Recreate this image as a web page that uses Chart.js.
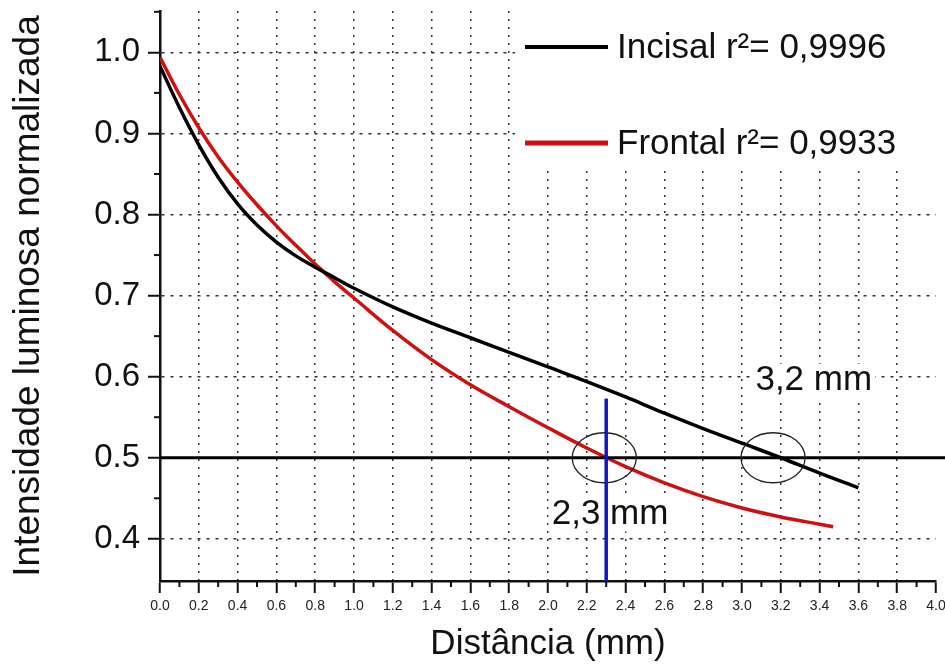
<!DOCTYPE html>
<html>
<head>
<meta charset="utf-8">
<script src="https://cdn.jsdelivr.net/npm/chart.js@4"></script>
<style>
  html, body { margin: 0; padding: 0; background: #fff; }
</style>
</head>
<body>
<canvas id="c" width="945" height="666"></canvas>
<script>
// values
const incisalX = [0, 0.1, 0.2, 0.3, 0.4, 0.5, 0.6, 0.7, 0.8, 0.9, 1.0, 1.2, 1.4, 1.6, 1.8, 2.0, 2.2, 2.4, 2.6, 2.8, 3.0, 3.2, 3.4, 3.6];
const incisalY = [0.983, 0.932, 0.886, 0.846, 0.813, 0.787, 0.766, 0.749, 0.735, 0.722, 0.709, 0.686, 0.666, 0.648, 0.630, 0.612, 0.594, 0.575, 0.555, 0.536, 0.518, 0.500, 0.481, 0.463];
const frontalX = [0, 0.1, 0.2, 0.3, 0.4, 0.5, 0.6, 0.7, 0.8, 0.9, 1.0, 1.2, 1.4, 1.6, 1.8, 2.0, 2.2, 2.4, 2.6, 2.8, 3.0, 3.2, 3.4, 3.47];
const frontalY = [0.994, 0.948, 0.907, 0.871, 0.840, 0.812, 0.786, 0.762, 0.739, 0.717, 0.697, 0.657, 0.621, 0.590, 0.563, 0.537, 0.512, 0.489, 0.469, 0.452, 0.438, 0.427, 0.418, 0.415];

const xTicks = [0, 0.2, 0.4, 0.6, 0.8, 1.0, 1.2, 1.4, 1.6, 1.8, 2.0, 2.2, 2.4, 2.6, 2.8, 3.0, 3.2, 3.4, 3.6, 3.8, 4.0];
const yTicks = [0.4, 0.5, 0.6, 0.7, 0.8, 0.9, 1.0];
const xMinor = [0.1, 0.3, 0.5, 0.7, 0.9, 1.1, 1.3, 1.5, 1.7, 1.9, 2.1, 2.3, 2.5, 2.7, 2.9, 3.1, 3.3, 3.5, 3.7, 3.9];
const yMinor = [0.45, 0.55, 0.65, 0.75, 0.85, 0.95, 1.05];

const labels = ['Incisal r\u00b2= 0,9996', 'Frontal r\u00b2= 0,9933'];
const colors = ['#000000', '#d01010'];

// half-intensity level and the distances where each curve crosses it
const cutLevel = 0.5;
const cutFrontal = 2.3;
const blueTop = 0.573;
const circleX = [2.29, 3.16];
const noteText = ['3,2 mm', '2,3 mm'];
const noteX = [3.37, 2.32];
const noteY = [0.595, 0.43];

const FONT = '"Liberation Sans", Arial, sans-serif';

const decor = {
  id: 'decor',
  beforeDatasetsDraw(chart) {
    const { ctx, scales: { x, y } } = chart;
    ctx.save();
    // minor ticks
    ctx.strokeStyle = '#111';
    ctx.lineWidth = 2;
    xMinor.forEach(v => {
      const px = x.getPixelForValue(v);
      ctx.beginPath(); ctx.moveTo(px, y.bottom); ctx.lineTo(px, y.bottom + 6); ctx.stroke();
    });
    yMinor.forEach(v => {
      const py = y.getPixelForValue(v);
      ctx.beginPath(); ctx.moveTo(x.left, py); ctx.lineTo(x.left - 6, py); ctx.stroke();
    });

    // legend (white box hides the grid)
    ctx.fillStyle = '#fff';
    ctx.fillRect(515, 0, 430, 167);
    const rows = [47, 143];
    chart.data.datasets.forEach((ds, i) => {
      ctx.strokeStyle = ds.borderColor;
      ctx.lineWidth = i === 0 ? 4 : 5;
      ctx.beginPath(); ctx.moveTo(525, rows[i]); ctx.lineTo(608, rows[i]); ctx.stroke();
      ctx.fillStyle = '#111';
      ctx.font = '35px ' + FONT;
      ctx.textBaseline = 'middle';
      ctx.textAlign = 'left';
      ctx.fillText(ds.label, 617, rows[i] + 1);
    });

    // notes
    ctx.font = '35px ' + FONT;
    ctx.textAlign = 'center';
    ctx.textBaseline = 'middle';
    noteText.forEach((t, i) => {
      const px = x.getPixelForValue(noteX[i]);
      const py = y.getPixelForValue(noteY[i]);
      const w = ctx.measureText(t).width;
      ctx.fillStyle = '#fff';
      ctx.fillRect(px - w / 2 - 3, py - 17, w + 6, 34);
      ctx.fillStyle = '#111';
      ctx.fillText(t, px, py);
    });
    ctx.restore();
  },
  afterDatasetsDraw(chart) {
    const { ctx, scales: { x, y } } = chart;
    ctx.save();
    // 0.5 line
    const py = y.getPixelForValue(cutLevel);
    ctx.strokeStyle = '#000';
    ctx.lineWidth = 3;
    ctx.beginPath(); ctx.moveTo(x.left, py); ctx.lineTo(chart.width, py); ctx.stroke();
    // circles
    ctx.lineWidth = 1.3;
    ctx.strokeStyle = '#222';
    circleX.forEach(v => {
      ctx.beginPath();
      ctx.ellipse(x.getPixelForValue(v), py, 32, 25, 0, 0, Math.PI * 2);
      ctx.stroke();
    });
    // blue marker at 2,3 mm
    const bx = x.getPixelForValue(cutFrontal);
    ctx.strokeStyle = '#1414c8';
    ctx.lineWidth = 3.5;
    ctx.beginPath(); ctx.moveTo(bx, y.getPixelForValue(blueTop)); ctx.lineTo(bx, y.bottom); ctx.stroke();
    ctx.restore();
  }
};

new Chart(document.getElementById('c'), {
  type: 'scatter',
  data: {
    datasets: [
      {
        label: labels[0],
        data: incisalX.map((v, i) => ({ x: v, y: incisalY[i] })),
        borderColor: colors[0],
        borderWidth: 3.5,
        showLine: true,
        pointRadius: 0,
        tension: 0.4
      },
      {
        label: labels[1],
        data: frontalX.map((v, i) => ({ x: v, y: frontalY[i] })),
        borderColor: colors[1],
        borderWidth: 3.5,
        showLine: true,
        pointRadius: 0,
        tension: 0.4
      }
    ]
  },
  options: {
    responsive: false,
    animation: false,
    devicePixelRatio: 1,
    layout: { padding: { top: 11, right: 9, left: 0, bottom: 0 } },
    plugins: { legend: { display: false }, tooltip: { enabled: false } },
    scales: {
      x: {
        type: 'linear',
        min: 0,
        max: 4,
        afterBuildTicks: axis => { axis.ticks = xTicks.map(v => ({ value: v })); },
        afterFit: axis => { axis.height = 85; axis.paddingLeft = 0; axis.paddingRight = 0; },
        ticks: {
          autoSkip: false,
          maxRotation: 0,
          padding: 5,
          color: '#222',
          font: { family: FONT, size: 14 },
          callback: v => Number(v).toFixed(1)
        },
        grid: {
          color: c => (c.tick && (c.tick.value === 0 || c.tick.value === 4)) ? 'rgba(0,0,0,0)' : '#333',
          lineWidth: 1.5,
          tickLength: 12,
          tickColor: '#111',
          tickWidth: 2
        },
        border: { color: '#111', width: 2.5, dash: [2, 6] },
        title: {
          display: true,
          text: 'Distância (mm)',
          color: '#111',
          font: { family: FONT, size: 35 },
          padding: { top: 0, bottom: 1 }
        }
      },
      y: {
        type: 'linear',
        min: 0.348,
        max: 1.051,
        afterBuildTicks: axis => { axis.ticks = yTicks.map(v => ({ value: v })); },
        afterFit: axis => { axis.width = 160; axis.paddingTop = 0; axis.paddingBottom = 0; },
        ticks: {
          padding: 8,
          color: '#111',
          font: { family: FONT, size: 33 },
          callback: v => Number(v).toFixed(1)
        },
        grid: {
          color: '#333',
          lineWidth: 1.5,
          tickLength: 12,
          tickColor: '#111',
          tickWidth: 2
        },
        border: { color: '#111', width: 2.5, dash: [3, 6] },
        title: {
          display: true,
          text: 'Intensidade luminosa normalizada',
          color: '#111',
          font: { family: FONT, size: 37 },
          padding: { top: 7, bottom: 0 }
        }
      }
    }
  },
  plugins: [decor]
});
</script>
</body>
</html>
